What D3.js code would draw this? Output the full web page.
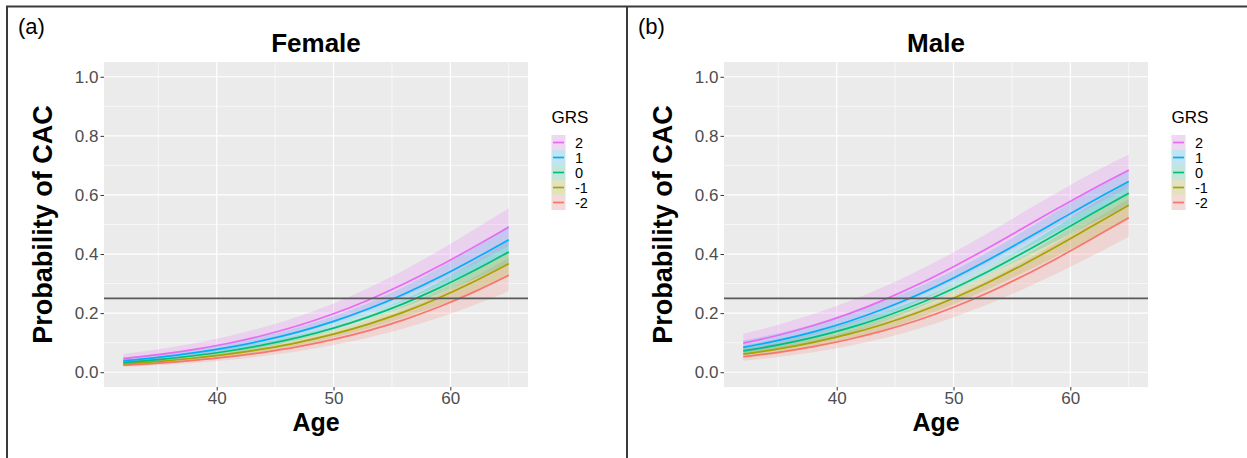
<!DOCTYPE html>
<html>
<head>
<meta charset="utf-8">
<script src="https://cdn.jsdelivr.net/npm/d3@7"></script>
<style>
  html, body { margin: 0; padding: 0; background: #fff; }
  svg { display: block; font-family: "Liberation Sans", Arial, Helvetica, sans-serif; }
</style>
</head>
<body>
<svg id="chart" width="1247" height="458"></svg>
<script>
// ---------------- data ----------------
const ages = [32, 35, 38, 41, 44, 47, 50, 53, 56, 59, 62, 65];
const grsLevels = ["-2", "-1", "0", "1", "2"];
const legendOrder = ["2", "1", "0", "-1", "-2"];
const grsColors = ["#F8766D", "#A3A500", "#00BF7D", "#00B0F6", "#E76BF3"];
const panelTags = ["(a)", "(b)"];
const panelTitles = ["Female", "Male"];
const xTicks = [40, 50, 60];
const yTicks = [0.0, 0.2, 0.4, 0.6, 0.8, 1.0];
const refLine = 0.25;

// Female: fitted probability and 95% band
const femaleFit = {
  "-2": [0.0238, 0.0309, 0.0403, 0.0522, 0.0675, 0.0868, 0.1111, 0.1410, 0.1773, 0.2206, 0.2711, 0.3283],
  "-1": [0.0280, 0.0365, 0.0474, 0.0613, 0.0791, 0.1013, 0.1290, 0.1629, 0.2034, 0.2513, 0.3060, 0.3668],
  "0":  [0.0331, 0.0429, 0.0557, 0.0719, 0.0924, 0.1179, 0.1493, 0.1874, 0.2323, 0.2846, 0.3432, 0.4071],
  "1":  [0.0389, 0.0505, 0.0653, 0.0841, 0.1076, 0.1367, 0.1722, 0.2147, 0.2641, 0.3204, 0.3825, 0.4486],
  "2":  [0.0458, 0.0593, 0.0765, 0.0981, 0.1251, 0.1580, 0.1978, 0.2447, 0.2984, 0.3584, 0.4234, 0.4910]
};
const femaleLow = {
  "-2": [0.0174, 0.0233, 0.0312, 0.0414, 0.0546, 0.0712, 0.0921, 0.1179, 0.1484, 0.1847, 0.2266, 0.2741],
  "-1": [0.0216, 0.0291, 0.0391, 0.0521, 0.0690, 0.0903, 0.1167, 0.1482, 0.1844, 0.2258, 0.2723, 0.3234],
  "0":  [0.0261, 0.0351, 0.0471, 0.0630, 0.0837, 0.1100, 0.1423, 0.1798, 0.2203, 0.2650, 0.3146, 0.3682],
  "1":  [0.0301, 0.0404, 0.0540, 0.0717, 0.0943, 0.1224, 0.1566, 0.1964, 0.2410, 0.2907, 0.3446, 0.4018],
  "2":  [0.0339, 0.0450, 0.0597, 0.0785, 0.1023, 0.1315, 0.1669, 0.2086, 0.2560, 0.3089, 0.3663, 0.4270]
};
const femaleHigh = {
  "-2": [0.0323, 0.0409, 0.0519, 0.0658, 0.0833, 0.1055, 0.1333, 0.1678, 0.2103, 0.2614, 0.3208, 0.3874],
  "-1": [0.0362, 0.0456, 0.0574, 0.0721, 0.0905, 0.1134, 0.1423, 0.1787, 0.2239, 0.2785, 0.3419, 0.4124],
  "0":  [0.0418, 0.0524, 0.0656, 0.0819, 0.1018, 0.1262, 0.1566, 0.1953, 0.2449, 0.3049, 0.3731, 0.4472],
  "1":  [0.0502, 0.0629, 0.0788, 0.0984, 0.1226, 0.1524, 0.1891, 0.2341, 0.2884, 0.3516, 0.4219, 0.4965],
  "2":  [0.0618, 0.0777, 0.0975, 0.1221, 0.1521, 0.1888, 0.2329, 0.2847, 0.3446, 0.4112, 0.4825, 0.5553]
};

// Male: fitted probability and 95% band
const maleFit = {
  "-2": [0.0524, 0.0675, 0.0868, 0.1109, 0.1406, 0.1767, 0.2198, 0.2697, 0.3265, 0.3887, 0.4549, 0.5227],
  "-1": [0.0615, 0.0791, 0.1013, 0.1288, 0.1625, 0.2028, 0.2503, 0.3045, 0.3650, 0.4297, 0.4973, 0.5649],
  "0":  [0.0720, 0.0924, 0.1179, 0.1491, 0.1870, 0.2316, 0.2835, 0.3416, 0.4052, 0.4718, 0.5397, 0.6061],
  "1":  [0.0842, 0.1076, 0.1367, 0.1719, 0.2142, 0.2633, 0.3193, 0.3808, 0.4467, 0.5142, 0.5815, 0.6459],
  "2":  [0.0983, 0.1251, 0.1580, 0.1975, 0.2441, 0.2975, 0.3573, 0.4216, 0.4890, 0.5565, 0.6222, 0.6838]
};
const maleLow = {
  "-2": [0.0387, 0.0514, 0.0679, 0.0889, 0.1154, 0.1475, 0.1862, 0.2311, 0.2817, 0.3372, 0.3965, 0.4583],
  "-1": [0.0478, 0.0637, 0.0843, 0.1106, 0.1434, 0.1830, 0.2295, 0.2813, 0.3372, 0.3958, 0.4564, 0.5172],
  "0":  [0.0573, 0.0762, 0.1008, 0.1320, 0.1711, 0.2181, 0.2723, 0.3302, 0.3887, 0.4474, 0.5072, 0.5663],
  "1":  [0.0659, 0.0873, 0.1146, 0.1487, 0.1905, 0.2394, 0.2951, 0.3548, 0.4168, 0.4792, 0.5412, 0.6008],
  "2":  [0.0736, 0.0967, 0.1258, 0.1615, 0.2047, 0.2546, 0.3111, 0.3724, 0.4363, 0.5010, 0.5646, 0.6255]
};
const maleHigh = {
  "-2": [0.0704, 0.0883, 0.1104, 0.1374, 0.1704, 0.2102, 0.2575, 0.3122, 0.3747, 0.4427, 0.5145, 0.5864],
  "-1": [0.0786, 0.0978, 0.1212, 0.1494, 0.1835, 0.2241, 0.2723, 0.3287, 0.3937, 0.4643, 0.5382, 0.6114],
  "0":  [0.0902, 0.1116, 0.1373, 0.1678, 0.2039, 0.2458, 0.2951, 0.3532, 0.4219, 0.4963, 0.5718, 0.6445],
  "1":  [0.1071, 0.1322, 0.1623, 0.1980, 0.2399, 0.2887, 0.3446, 0.4075, 0.4770, 0.5491, 0.6208, 0.6885],
  "2":  [0.1301, 0.1604, 0.1967, 0.2392, 0.2884, 0.3443, 0.4063, 0.4725, 0.5419, 0.6106, 0.6766, 0.7367]
};

const panels = [
  { fit: femaleFit, low: femaleLow, high: femaleHigh },
  { fit: maleFit, low: maleLow, high: maleHigh }
];

// ---------------- drawing ----------------
const svg = d3.select("#chart");
const color = d3.scaleOrdinal().domain(grsLevels).range(grsColors);

// outer frame (top, left, divider)
const frame = svg.append("g").attr("stroke", "#3a3a3a").attr("stroke-width", 2);
frame.append("line").attr("x1", 6).attr("x2", 1247).attr("y1", 6.5).attr("y2", 6.5);
frame.append("line").attr("x1", 7).attr("x2", 7).attr("y1", 6).attr("y2", 458);
frame.append("line").attr("x1", 627).attr("x2", 627).attr("y1", 6).attr("y2", 458);

panels.forEach((p, i) => {
  const ox = i * 620;
  const g = svg.append("g").attr("transform", `translate(${ox},0)`);
  const x = d3.scaleLinear().domain([30.35, 66.65]).range([104, 528]);
  const y = d3.scaleLinear().domain([-0.05, 1.05]).range([387, 62]);

  // tag and title
  g.append("text").attr("x", 18).attr("y", 34).attr("font-size", 22).attr("fill", "#000").text(panelTags[i]);
  g.append("text").attr("x", 316).attr("y", 52).attr("text-anchor", "middle")
    .attr("font-size", 26).attr("font-weight", "bold").attr("fill", "#000").text(panelTitles[i]);

  // panel background
  g.append("rect").attr("x", 104).attr("y", 62).attr("width", 424).attr("height", 325).attr("fill", "#EBEBEB");

  // minor grid
  const xMinor = [35, 45, 55, 65];
  const yMinor = [0.1, 0.3, 0.5, 0.7, 0.9];
  g.append("g").selectAll("line").data(xMinor).join("line")
    .attr("x1", d => x(d)).attr("x2", d => x(d)).attr("y1", 62).attr("y2", 387)
    .attr("stroke", "#fff").attr("stroke-width", 0.6);
  g.append("g").selectAll("line").data(yMinor).join("line")
    .attr("x1", 104).attr("x2", 528).attr("y1", d => y(d)).attr("y2", d => y(d))
    .attr("stroke", "#fff").attr("stroke-width", 0.6);
  // major grid
  g.append("g").selectAll("line").data(xTicks).join("line")
    .attr("x1", d => x(d)).attr("x2", d => x(d)).attr("y1", 62).attr("y2", 387)
    .attr("stroke", "#fff").attr("stroke-width", 1.2);
  g.append("g").selectAll("line").data(yTicks).join("line")
    .attr("x1", 104).attr("x2", 528).attr("y1", d => y(d)).attr("y2", d => y(d))
    .attr("stroke", "#fff").attr("stroke-width", 1.2);

  // ribbons
  const area = d3.area()
    .x((d, k) => x(ages[k]))
    .y0(d => y(d[0])).y1(d => y(d[1]))
    .curve(d3.curveMonotoneX);
  grsLevels.forEach(lv => {
    const rows = ages.map((a, k) => [p.low[lv][k], p.high[lv][k]]);
    g.append("path").attr("d", area(rows)).attr("fill", color(lv)).attr("fill-opacity", 0.2);
  });
  // lines
  const line = d3.line().x((d, k) => x(ages[k])).y(d => y(d)).curve(d3.curveMonotoneX);
  grsLevels.forEach(lv => {
    g.append("path").attr("d", line(p.fit[lv])).attr("fill", "none")
      .attr("stroke", color(lv)).attr("stroke-width", 1.7);
  });

  // reference line
  g.append("line").attr("x1", 104).attr("x2", 528).attr("y1", y(refLine)).attr("y2", y(refLine))
    .attr("stroke", "#595959").attr("stroke-width", 1.6);

  // axes
  const xAxis = d3.axisBottom(x).tickValues(xTicks).tickSize(3.5).tickPadding(1.5).tickFormat(d3.format("d"));
  const gx = g.append("g").attr("transform", "translate(0,387)").call(xAxis);
  gx.select(".domain").remove();
  gx.selectAll(".tick line").attr("stroke", "#333");
  gx.selectAll(".tick text").attr("fill", "#4D4D4D").attr("font-size", 17)
    .attr("font-family", "Liberation Sans, Arial, sans-serif");

  const yAxis = d3.axisLeft(y).tickValues(yTicks).tickSize(3.5).tickPadding(2).tickFormat(d3.format(".1f"));
  const gy = g.append("g").attr("transform", "translate(104,0)").call(yAxis);
  gy.select(".domain").remove();
  gy.selectAll(".tick line").attr("stroke", "#333");
  gy.selectAll(".tick text").attr("fill", "#4D4D4D").attr("font-size", 17)
    .attr("font-family", "Liberation Sans, Arial, sans-serif");

  // axis titles
  g.append("text").attr("x", 316).attr("y", 430.5).attr("text-anchor", "middle")
    .attr("font-size", 25).attr("font-weight", "bold").attr("fill", "#000").text("Age");
  g.append("text").attr("transform", "translate(52,224.5) rotate(-90)").attr("text-anchor", "middle")
    .attr("font-size", 27).attr("font-weight", "bold").attr("fill", "#000").text("Probability of CAC");

  // legend
  const lg = g.append("g").attr("transform", "translate(551,0)");
  lg.append("text").attr("x", 0.5).attr("y", 123).attr("font-size", 17).attr("fill", "#000").text("GRS");
  legendOrder.forEach((lv, k) => {
    const ky = 135 + k * 15;
    lg.append("rect").attr("x", 0.5).attr("y", ky).attr("width", 14).attr("height", 15).attr("fill", "#F2F2F2");
    lg.append("rect").attr("x", 0.5).attr("y", ky).attr("width", 14).attr("height", 15)
      .attr("fill", color(lv)).attr("fill-opacity", 0.2);
    lg.append("line").attr("x1", 2).attr("x2", 13).attr("y1", ky + 7.5).attr("y2", ky + 7.5)
      .attr("stroke", color(lv)).attr("stroke-width", 1.7);
    lg.append("text").attr("x", 24).attr("y", ky + 7.5).attr("dy", "0.36em")
      .attr("font-size", 14.5).attr("fill", "#000").text(lv);
  });
});
</script>
</body>
</html>
